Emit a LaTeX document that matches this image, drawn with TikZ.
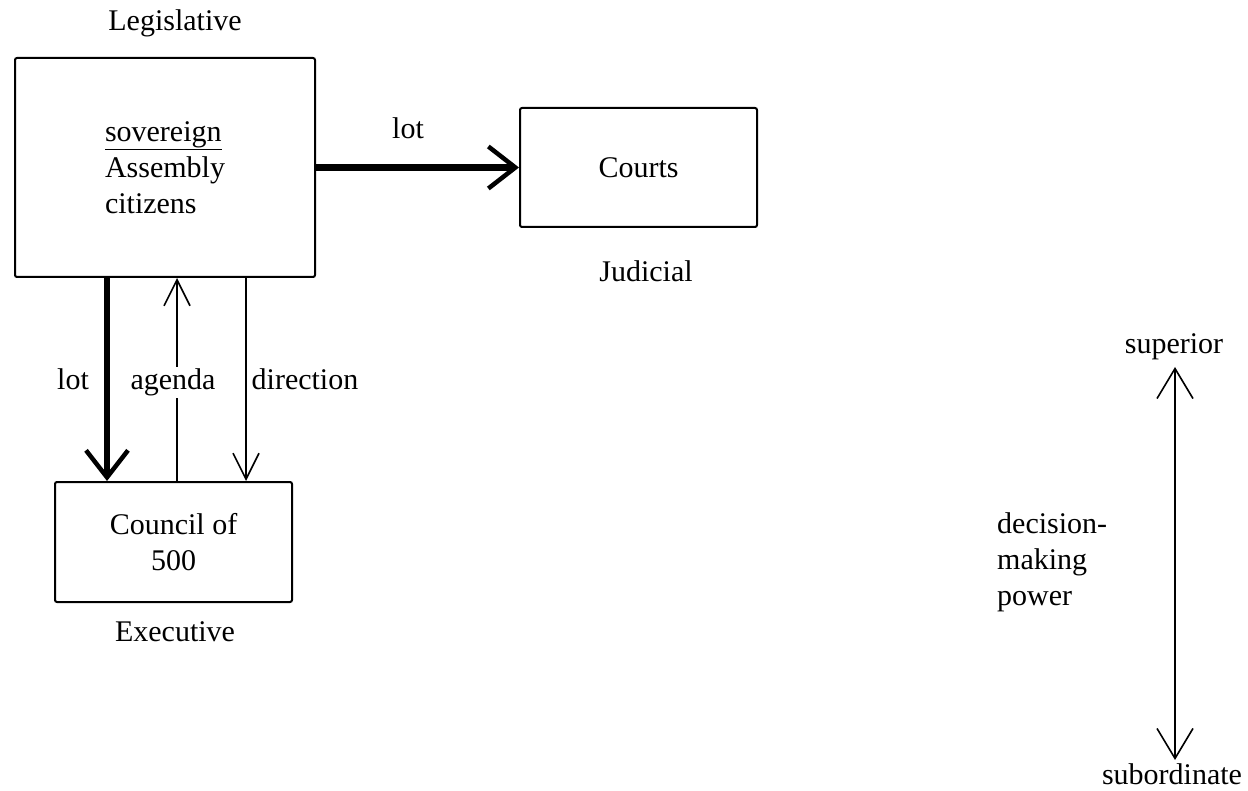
\documentclass[tikz,border=0pt]{standalone}
\usepackage{fontspec}
\setmainfont{Liberation Serif}
\usetikzlibrary{arrows.meta}
\begin{document}
\begin{tikzpicture}[x=1pt,y=-1pt,
  every node/.style={font=\fontsize{30}{36}\selectfont, inner sep=0pt},
  box/.style={draw, line width=2pt, rounded corners=2pt},
  thick arrow/.style={line width=6.5pt, -{Straight Barb[length=27pt,width=42pt,line width=4.5pt]}},
  thin arrow/.style={line width=1.6pt, -{Straight Barb[length=26pt,width=26pt,line width=1.6pt]}},
  lbl/.style={anchor=base}]
\useasboundingbox (0,0) rectangle (1248,791);
\node[box, minimum width=300pt, minimum height=219pt, align=left] (asm) at (165,167.5)
  {\underline{sovereign}\\Assembly\\citizens};
\node[box, minimum width=237pt, minimum height=119pt] (courts) at (638.5,167.5) {Courts};
\node[box, minimum width=237pt, minimum height=120pt, align=center] (council) at (173.5,542)
  {Council of\\500};
\node[lbl] (leg) at (175,31) {Legislative};
\node[lbl] (jud) at (646,282) {Judicial};
\node[lbl] (exe) at (175,641) {Executive};
\coordinate (xlot) at (107,0);
\coordinate (xag) at (177,0);
\coordinate (xdir) at (246,0);
\draw[thick arrow] (asm.east) -- (courts.west);
\node[lbl] (lot1) at (408,139) {lot};
\draw[thick arrow] (asm.south -| xlot) -- (council.north -| xlot);
\draw[thin arrow] (council.north -| xag) -- (asm.south -| xag);
\draw[thin arrow] (asm.south -| xdir) -- (council.north -| xdir);
\node[lbl] (lot2) at (73,390) {lot};
\node[lbl, fill=white, inner sep=2pt] (agenda) at (173,390) {agenda};
\node[lbl] (dir) at (305,390) {direction};
\node[lbl] (sup) at (1174,354) {superior};
\node[lbl] (sub) at (1172,784) {subordinate};
\coordinate (xr) at (1175,0);
\coordinate (ytop) at (0,367);
\coordinate (ybot) at (0,760);
\draw[line width=1.6pt, {Straight Barb[length=30pt,width=36pt,line width=1.6pt]}-{Straight Barb[length=30pt,width=36pt,line width=1.6pt]}]
  (xr |- ytop) -- (xr |- ybot);
\node[align=left, anchor=west] (dmp) at (997,562) {decision-\\making\\power};
\end{tikzpicture}
\end{document}
